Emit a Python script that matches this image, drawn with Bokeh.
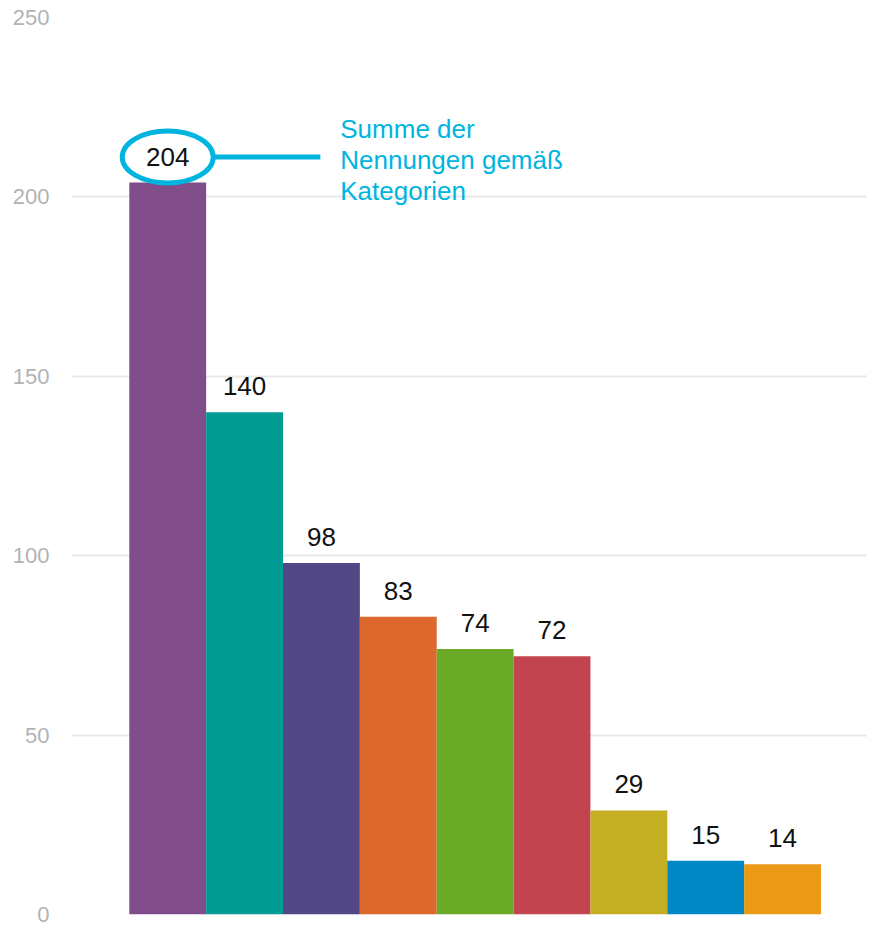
from bokeh.plotting import figure
from bokeh.models import Range1d, FixedTicker, LabelSet, Label, ColumnDataSource
from bokeh.core.properties import value
from bokeh.embed import file_html
from bokeh.resources import INLINE

# ---- data ----
values = [204, 140, 98, 83, 74, 72, 29, 15, 14]
colors = ["#804d8a", "#009c94", "#524886", "#dd682d", "#6aaa27",
          "#c1444f", "#c4ae21", "#0088c6", "#ea9a17"]
y_ticks = [0, 50, 100, 150, 200, 250]
note_lines = ["Summe der", "Nennungen gemäß", "Kategorien"]

FONT = "Liberation Sans"
CYAN = "#00b4e0"

idx = list(range(len(values)))
src = ColumnDataSource(dict(x=idx, top=values, color=colors,
                            label=[str(v) for v in values]))

W, H = 867, 927
TOP, BOTTOM, LEFT = 17, 13, 71
X0, X1 = -1.252, 9.105
Y0, Y1 = 0, 250
p = figure(width=W, height=H, output_backend="svg", toolbar_location=None,
           x_range=Range1d(X0, X1), y_range=Range1d(Y0, Y1),
           min_border_left=LEFT, min_border_right=0, min_border_top=TOP,
           min_border_bottom=BOTTOM)
p.outline_line_color = None
p.xaxis.visible = False
p.xgrid.grid_line_color = None
p.ygrid.grid_line_color = "#e9e9e9"
p.ygrid.grid_line_width = 2

yax = p.yaxis[0]
yax.ticker = FixedTicker(ticks=y_ticks)
yax.axis_line_color = None
yax.major_tick_line_color = None
yax.minor_tick_line_color = None
yax.major_tick_out = 0
yax.major_tick_in = 0
yax.major_label_standoff = 22
yax.major_label_text_font = FONT
yax.major_label_text_font_size = "22px"
yax.major_label_text_color = "#b3b3b3"

p.vbar(x="x", top="top", width=1.0, color="color", line_color=None, source=src)

# value labels
labels = LabelSet(x="x", y="top", text="label", source=src, y_offset=17,
                  text_align="center", text_baseline="alphabetic",
                  text_font=value(FONT), text_font_size=value("26px"),
                  text_color="#111111")
p.add_layout(labels)

# annotation around first bar's label
px_per_unit_y = (H - TOP - BOTTOM) / (Y1 - Y0)
px_per_unit_x = (W - LEFT) / (X1 - X0)
cy = values[0] + 25.5 / px_per_unit_y
p.ellipse(x=[idx[0]], y=[cy], width=91, height=52, width_units="screen",
          height_units="screen", fill_color="white", fill_alpha=0.0,
          line_color=CYAN, line_width=5)
x0 = idx[0] + 46 / px_per_unit_x
x1 = idx[0] + 1.986
p.line(x=[x0, x1], y=[cy, cy], line_color=CYAN, line_width=5)

tx = idx[0] + 2.245
for line, off in zip(note_lines, [54, 23, -8]):
    p.add_layout(Label(x=tx, y=values[0], y_offset=off, text=line,
                       text_align="left", text_baseline="alphabetic",
                       text_font=FONT, text_font_size="26px",
                       text_color=CYAN))

open("out.html", "w").write(file_html(p, INLINE))
